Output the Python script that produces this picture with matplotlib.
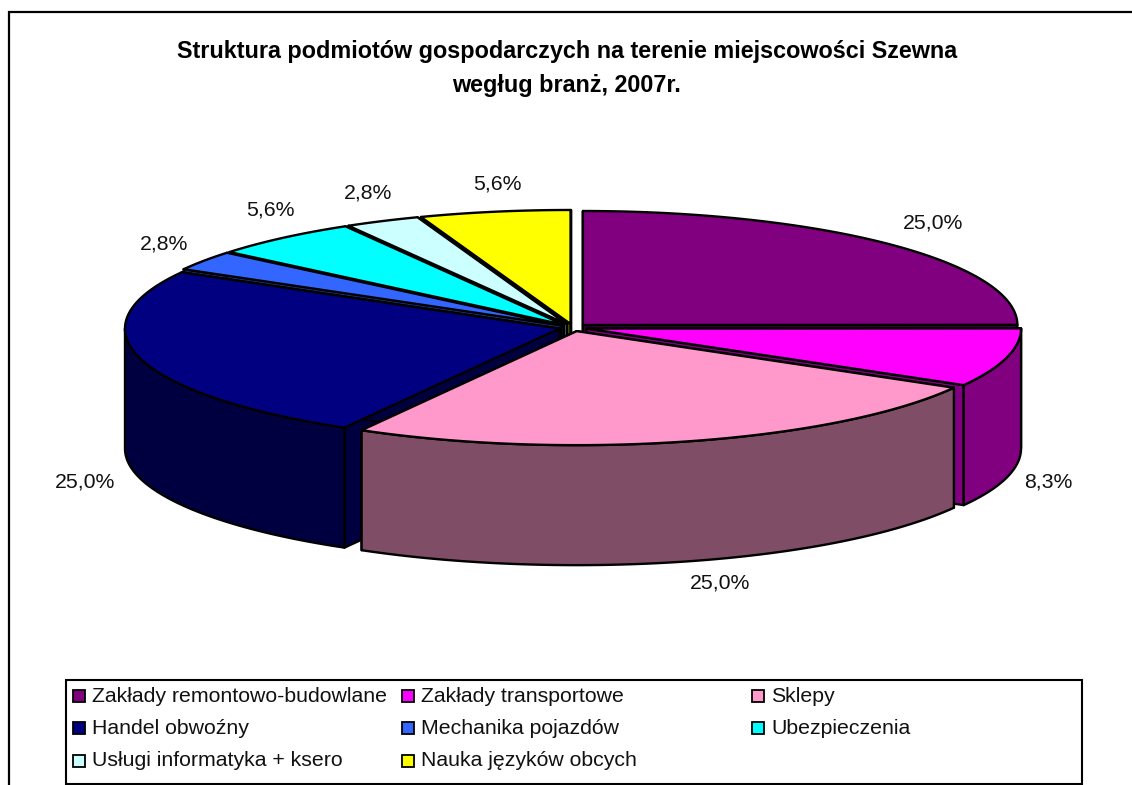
import numpy as np
import matplotlib
matplotlib.use("Agg")
import matplotlib.pyplot as plt
from matplotlib.colors import to_rgb
from matplotlib.patches import Polygon, Rectangle

plt.rcParams['font.family'] = ['Liberation Sans', 'DejaVu Sans']

# dane z wykresu
categories = ["Zakłady remontowo-budowlane", "Zakłady transportowe", "Sklepy",
              "Handel obwoźny", "Mechanika pojazdów", "Ubezpieczenia",
              "Usługi informatyka + ksero", "Nauka języków obcych"]
shares = [25.0, 8.3, 25.0, 25.0, 2.8, 5.6, 2.8, 5.6]
colors = ["#800080", "#ff00ff", "#ff99cc", "#000080",
          "#3366ff", "#00ffff", "#ccffff", "#ffff00"]
title = "Struktura podmiotów gospodarczych na terenie miejscowości Szewna\nwegług branż, 2007r."

# geometria w pikselach obrazka
cx, cy = 573.0, 327.6
rx, ry = 434.5, 114.0
depth = 120.0
explode = 14.0
label_xy = [(933, 223), (1048, 482), (720, 583), (85, 482),
            (164, 244), (270, 210), (368, 193), (497, 184)]
legend_cols = [73, 402, 752]
legend_rows = [696, 728, 761]
LW = 1.7


def ellipse_pts(x0, y0, a0, a1):
    # katy liczone od godziny 12 zgodnie z ruchem wskazowek
    t = np.radians(np.linspace(a0, a1, max(int(a1 - a0) * 2, 2) + 1))
    return np.column_stack([x0 + rx * np.sin(t), y0 - ry * np.cos(t)])


def dark(c):
    return tuple(v * 0.5 for v in to_rgb(c))


def draw_wedge(ax, a0, a1, color):
    mid = np.radians((a0 + a1) / 2)
    x0 = cx + explode * np.sin(mid)
    y0 = cy - explode * ry / rx * np.cos(mid)
    arc = ellipse_pts(x0, y0, a0, a1)
    down = np.array([0, depth])
    side = dark(color)

    # sciany boczne przy srodku
    for end in (arc[0], arc[-1]):
        quad = [(x0, y0), end, end + down, (x0, y0 + depth)]
        ax.add_patch(Polygon(quad, fc=side, ec="black", lw=LW, joinstyle="round"))

    # sciana zewnetrzna tylko z przodu (90-270 stopni)
    w0, w1 = max(a0, 90), min(a1, 270)
    if w1 > w0:
        wall = ellipse_pts(x0, y0, w0, w1)
        ax.add_patch(Polygon(np.vstack([wall, wall[::-1] + down]),
                             fc=side, ec="black", lw=LW, joinstyle="round"))

    ax.add_patch(Polygon(np.vstack([[x0, y0], arc]), fc=color, ec="black",
                         lw=LW, joinstyle="round"))


fig = plt.figure(figsize=(11.32, 7.85), dpi=100)
ax = fig.add_axes([0, 0, 1, 1])
ax.set_xlim(0, 1132)
ax.set_ylim(785, 0)
ax.axis("off")

# ramka wykresu
ax.plot([8.5, 8.5, 1132], [785, 11.5, 11.5], color="black", lw=1.6, solid_joinstyle="miter")

ax.text(567, 68.5, title, ha="center", va="center", fontsize=16.8, fontweight="bold",
        linespacing=1.6)

# kolejnosc malowania od tylu do przodu
edges = np.concatenate([[0], np.cumsum(shares)]) / np.sum(shares) * 360
order = sorted(range(len(shares)), key=lambda i: -np.cos(np.radians((edges[i] + edges[i + 1]) / 2)))
for i in order:
    draw_wedge(ax, edges[i], edges[i + 1], colors[i])

for val, (x, y) in zip(shares, label_xy):
    ax.text(x, y, f"{val:.1f}%".replace(".", ","), ha="center", va="center",
            fontsize=15.3, color="#111111")

# legenda
ax.add_patch(Rectangle((65.5, 679.5), 1016.5, 104, fc="white", ec="black", lw=1.5))
for i, name in enumerate(categories):
    row, col = divmod(i, 3)
    x, y = legend_cols[col], legend_rows[row]
    ax.add_patch(Rectangle((x, y - 6), 12, 12, fc=colors[i], ec="black", lw=1.3))
    ax.text(x + 19, y, name, ha="left", va="center", fontsize=15.3, color="#111111")

fig.savefig("out.png", dpi=100)
